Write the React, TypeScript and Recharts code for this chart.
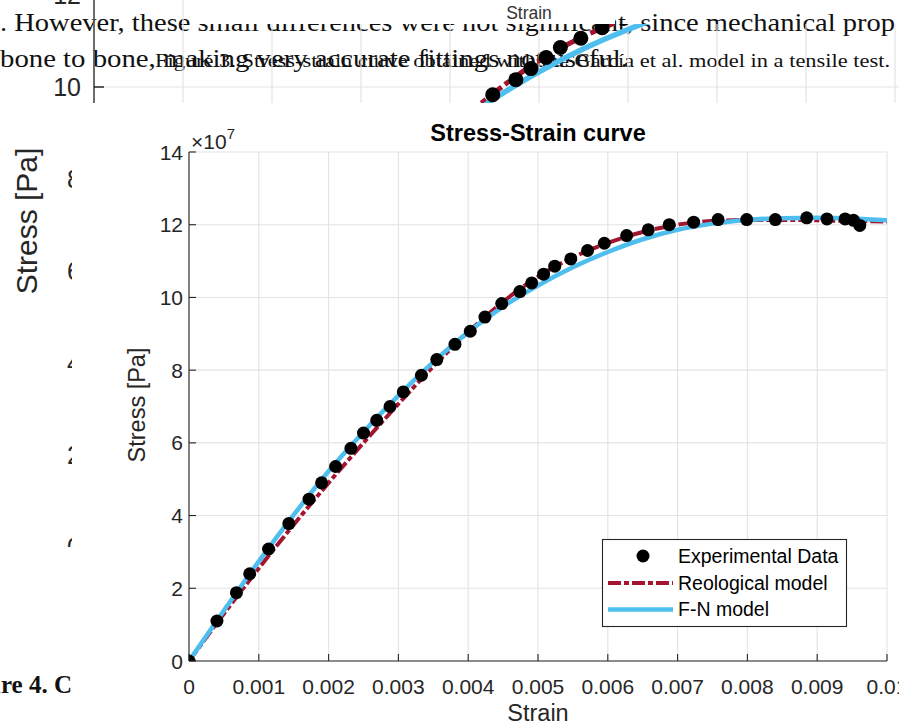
import React from 'react';
import { ComposedChart, Line, Scatter, XAxis, YAxis, CartesianGrid } from 'recharts';

// ---- data (stress values in units of 1e7 Pa) ----
const strainTicks = [0, 0.001, 0.002, 0.003, 0.004, 0.005, 0.006, 0.007, 0.008, 0.009, 0.01];
const stressTicks = [0, 2, 4, 6, 8, 10, 12, 14];

const expStrain = [
  0, 0.0004, 0.00068, 0.00087, 0.00114, 0.00143, 0.00172, 0.0019, 0.0021, 0.00232,
  0.0025, 0.00269, 0.00288, 0.00307, 0.00333, 0.00355, 0.00381, 0.00403, 0.00424, 0.00448,
  0.00474, 0.00491, 0.00508, 0.00524, 0.00547, 0.00571, 0.00595, 0.00627, 0.00658, 0.00688,
  0.00723, 0.00758, 0.00799, 0.0084, 0.00885, 0.00914, 0.0094, 0.00952, 0.00961,
];
const expStress = [
  0, 1.1, 1.88, 2.4, 3.08, 3.78, 4.45, 4.9, 5.35, 5.85,
  6.27, 6.62, 7.0, 7.4, 7.86, 8.29, 8.71, 9.07, 9.46, 9.83,
  10.16, 10.4, 10.64, 10.86, 11.06, 11.29, 11.49, 11.7, 11.86, 12.0,
  12.07, 12.14, 12.14, 12.14, 12.19, 12.16, 12.16, 12.12, 11.98,
];

const modelStrain = [
  0, 0.0005, 0.001, 0.0015, 0.002, 0.0025, 0.003, 0.0035, 0.004, 0.0045, 0.005,
  0.0055, 0.006, 0.0065, 0.007, 0.0075, 0.008, 0.0085, 0.009, 0.0095, 0.01,
];
const reoStress = [
  0, 1.3, 2.55, 3.75, 4.9, 6.0, 7.07, 8.1, 9.05, 9.88, 10.57,
  11.1, 11.5, 11.8, 12.0, 12.1, 12.13, 12.13, 12.12, 12.1, 12.09,
];
const fnStress = [
  0, 1.39, 2.74, 4.02, 5.22, 6.3, 7.3, 8.22, 9.05, 9.75, 10.33,
  10.83, 11.25, 11.6, 11.86, 12.03, 12.13, 12.18, 12.19, 12.17, 12.12,
];

const expData = expStrain.map((x, i) => ({ x, y: expStress[i] }));
const reoData = modelStrain.map((x, i) => ({ x, y: reoStress[i] }));
const fnData = modelStrain.map((x, i) => ({ x, y: fnStress[i] }));

const SANS = 'Liberation Sans, Arial, Helvetica, sans-serif';
const SERIF = 'Liberation Serif, Times New Roman, serif';
const AX = '#262626';
const RED = '#A2142F';
const BLUE = '#4DBEEE';
const GRID = '#e3e3e3';

const fmtStrain = (v: number) => String(Number(v.toFixed(3)));

const XTick = (props: any) => {
  const { x, y, payload } = props;
  return (
    <g>
      <line x1={x} y1={y} x2={x} y2={y - 7} stroke={AX} strokeWidth={1.1} />
      <text x={x} y={y + 33} textAnchor="middle" fontSize={21} fill={AX} fontFamily={SANS}>
        {fmtStrain(payload.value)}
      </text>
    </g>
  );
};

const YTick = (props: any) => {
  const { x, y, payload } = props;
  return (
    <g>
      <line x1={x} y1={y} x2={x + 7} y2={y} stroke={AX} strokeWidth={1.1} />
      <text x={x - 6} y={y + 7.5} textAnchor="end" fontSize={21} fill={AX} fontFamily={SANS}>
        {payload.value}
      </text>
    </g>
  );
};

const BgYTick = (props: any) => {
  const { x, y, payload } = props;
  return (
    <g>
      <line x1={x} y1={y} x2={x + 10} y2={y} stroke={AX} strokeWidth={1.3} />
      <text x={x - 13} y={y + 9} textAnchor="end" fontSize={25} fill={AX} fontFamily={SANS}>
        {payload.value}
      </text>
    </g>
  );
};

const Dot = (r: number) => (props: any) => {
  const { cx, cy } = props;
  return <circle cx={cx} cy={cy} r={r} fill="#000" />;
};

export default function App() {
  return (
    <div
      style={{
        position: 'absolute',
        left: 0,
        top: 0,
        width: 899,
        height: 724,
        overflow: 'hidden',
        background: '#fff',
      }}
    >
      {/* background page text */}
      <svg width={899} height={724} style={{ position: 'absolute', left: 0, top: 0 }}>
        <text x={0} y={31} fontSize={26} fontFamily={SERIF} fill="#111" textLength={895} lengthAdjust="spacingAndGlyphs">
          . However, these small differences were not significant, since mechanical prop
        </text>
        <rect x={193} y={0} width={422} height={24} fill="#fff" />
        <text x={529} y={19} fontSize={17.5} fontFamily={SANS} fill="#333" textAnchor="middle">
          Strain
        </text>
        <text x={0} y={67} fontSize={26} fontFamily={SERIF} fill="#111" textLength={628} lengthAdjust="spacingAndGlyphs">
          bone to bone, making very accurate fittings not useful.
        </text>
        <text x={155} y={67} fontSize={18} fontFamily={SERIF} fill="#111" textLength={735} lengthAdjust="spacingAndGlyphs">
          Figure 3. Stress-strain curve obtained with the García et al. model in a tensile test.
        </text>
        <text x={37} y={221} fontSize={30} fontFamily={SANS} fill={AX} textAnchor="middle" transform="rotate(-90 37 221)">
          Stress [Pa]
        </text>
        <text x={72} y={693} fontSize={25} fontWeight="bold" fontFamily={SERIF} fill="#111" textAnchor="end">
          Figure 4. C
        </text>
      </svg>

      {/* background figure (partly covered) */}
      <div
        style={{
          position: 'absolute',
          left: 0,
          top: -97,
          width: 984,
          height: 644,
          clipPath: 'polygon(0px 0px, 193px 0px, 193px 121px, 984px 121px, 984px 644px, 0px 644px)',
        }}
      >
        <ComposedChart width={984} height={644} margin={{ top: 0, right: 0, bottom: 0, left: 0 }}>
          <CartesianGrid stroke={GRID} strokeWidth={1.2} />
          <XAxis type="number" dataKey="x" domain={[0, 0.01]} ticks={strainTicks} hide allowDataOverflow />
          <YAxis
            type="number"
            dataKey="y"
            domain={[0, 14]}
            ticks={stressTicks}
            width={94}
            axisLine={{ stroke: AX, strokeWidth: 1.3 }}
            tickLine={false}
            tickSize={0}
            tickMargin={0}
            tick={<BgYTick />}
            interval={0}
            allowDataOverflow
          />
          <Scatter data={expData} dataKey="y" shape={Dot(7.5)} isAnimationActive={false} />
          <Line data={reoData} dataKey="y" type="monotone" stroke={RED} strokeWidth={5} strokeDasharray="16 4 6 4" dot={false} activeDot={false} isAnimationActive={false} />
          <Line data={fnData} dataKey="y" type="monotone" stroke={BLUE} strokeWidth={5.5} dot={false} activeDot={false} isAnimationActive={false} />
        </ComposedChart>
      </div>

      {/* main panel */}
      <div style={{ position: 'absolute', left: 72, top: 103, width: 827, height: 621, background: '#fff' }} />

      <div style={{ position: 'absolute', left: 0, top: 0 }}>
        <ComposedChart width={899} height={724} margin={{ top: 152, right: 12, bottom: 33, left: 0 }}>
          <CartesianGrid stroke={GRID} strokeWidth={1.1} />
          <XAxis
            type="number"
            dataKey="x"
            domain={[0, 0.01]}
            ticks={strainTicks}
            height={30}
            axisLine={{ stroke: AX, strokeWidth: 1.1 }}
            tickLine={false}
            tickSize={0}
            tickMargin={0}
            tick={<XTick />}
            interval={0}
            allowDataOverflow
          />
          <YAxis
            type="number"
            dataKey="y"
            domain={[0, 14]}
            ticks={stressTicks}
            width={189}
            axisLine={{ stroke: AX, strokeWidth: 1.1 }}
            tickLine={false}
            tickSize={0}
            tickMargin={0}
            tick={<YTick />}
            interval={0}
            allowDataOverflow
          />
          <Scatter data={expData} dataKey="y" shape={Dot(6.5)} isAnimationActive={false} />
          <Line data={reoData} dataKey="y" type="monotone" stroke={RED} strokeWidth={4} strokeDasharray="13 3 5 3" dot={false} activeDot={false} isAnimationActive={false} />
          <Line data={fnData} dataKey="y" type="monotone" stroke={BLUE} strokeWidth={4.5} dot={false} activeDot={false} isAnimationActive={false} />
        </ComposedChart>
      </div>

      {/* main titles, labels, legend */}
      <svg width={899} height={724} style={{ position: 'absolute', left: 0, top: 0, pointerEvents: 'none' }}>
        <text x={538} y={141} textAnchor="middle" fontSize={23.5} fontWeight="bold" fontFamily={SANS} fill="#000">
          Stress-Strain curve
        </text>
        <text x={191} y={149} fontSize={21} fontFamily={SANS} fill={AX}>
          ×10<tspan dy={-10} fontSize={15}>7</tspan>
        </text>
        <text x={145} y={405} textAnchor="middle" fontSize={23.5} fontFamily={SANS} fill={AX} transform="rotate(-90 145 405)">
          Stress [Pa]
        </text>
        <text x={538} y={721} textAnchor="middle" fontSize={23.5} fontFamily={SANS} fill={AX}>
          Strain
        </text>

        <rect x={602.5} y={539.5} width={244} height={87} fill="#fff" stroke={AX} strokeWidth={1.1} />
        <circle cx={643} cy={556} r={6.5} fill="#000" />
        <text x={678} y={563} fontSize={19.5} fontFamily={SANS} fill="#000">Experimental Data</text>
        <line x1={608} y1={583} x2={673} y2={583} stroke={RED} strokeWidth={4} strokeDasharray="13 3 5 3" />
        <text x={678} y={590} fontSize={19.5} fontFamily={SANS} fill="#000">Reological model</text>
        <line x1={608} y1={609.5} x2={673} y2={609.5} stroke={BLUE} strokeWidth={4.5} />
        <text x={678} y={616} fontSize={19.5} fontFamily={SANS} fill="#000">F-N model</text>
      </svg>
    </div>
  );
}
